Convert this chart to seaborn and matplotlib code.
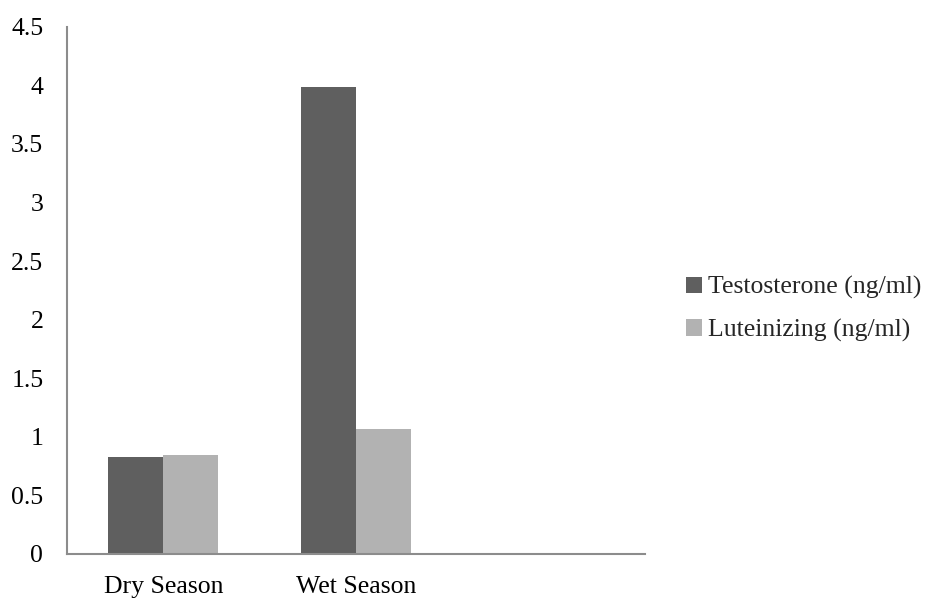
import matplotlib
matplotlib.use("Agg")
import matplotlib.pyplot as plt
import seaborn as sns
import pandas as pd
from matplotlib.patches import Patch

# Hormone levels by season
seasons = ["Dry Season", "Wet Season"]
testosterone = [0.824, 3.985]
luteinizing = [0.846, 1.063]
series_names = ["Testosterone (ng/ml)", "Luteinizing (ng/ml)"]
series_colors = ["#5f5f5f", "#b2b2b2"]
y_ticks = [0, 0.5, 1, 1.5, 2, 2.5, 3, 3.5, 4, 4.5]
y_tick_labels = ["0", "0.5", "1", "1.5", "2", "2.5", "3", "3.5", "4", "4.5"]

df = pd.DataFrame({
    "Season": seasons * 2,
    "Hormone": [series_names[0]] * len(seasons) + [series_names[1]] * len(seasons),
    "Value": testosterone + luteinizing,
})

sns.set_theme(style="white")
plt.rcParams["font.family"] = ["Liberation Serif", "DejaVu Serif"]

fig = plt.figure(figsize=(9.30, 5.98), dpi=100)
ax = fig.add_axes([0.072, 0.074, 0.6215, 0.881])

sns.barplot(data=df, x="Season", y="Value", hue="Hormone", order=seasons,
            hue_order=series_names, palette=series_colors, width=0.57,
            saturation=1, errorbar=None, legend=False, ax=ax, linewidth=0)

# third empty category slot on the axis
ax.set_xlim(-0.5, 2.5)
ax.set_ylim(0, 4.5)
ax.set_yticks(y_ticks)
ax.set_yticklabels(y_tick_labels)
ax.set_xlabel("")
ax.set_ylabel("")
ax.tick_params(axis="both", length=0, labelsize=18.5, colors="black")
ax.tick_params(axis="y", pad=17)
ax.tick_params(axis="x", pad=16)

for side in ["top", "right"]:
    ax.spines[side].set_visible(False)
for side in ["left", "bottom"]:
    ax.spines[side].set_color("#8c8c8c")
    ax.spines[side].set_linewidth(1.5)

handles = [Patch(facecolor=c, edgecolor="none") for c in series_colors]
fig.legend(handles, series_names, loc="center left",
           bbox_to_anchor=(686 / 930, 1 - 309 / 598), frameon=False,
           fontsize=18.5, handlelength=0.62, handleheight=0.62,
           handletextpad=0.25, labelspacing=0.75, borderpad=0, borderaxespad=0)

fig.savefig("out.png", dpi=100, facecolor="white")
